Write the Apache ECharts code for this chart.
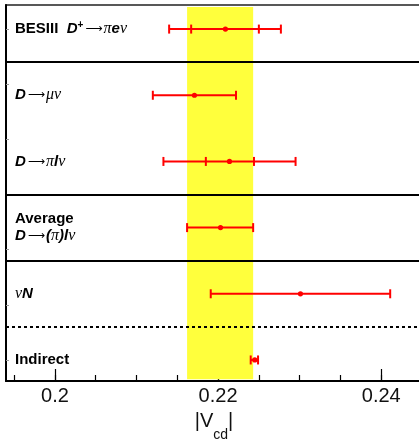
<!DOCTYPE html>
<html>
<head>
<meta charset="utf-8">
<script src="https://cdn.jsdelivr.net/npm/echarts@6/dist/echarts.min.js"></script>
<style>
  html, body { margin: 0; padding: 0; background: #fff; }
  #chart { width: 419px; height: 439px; }
</style>
</head>
<body>
<div id="chart"></div>
<script>
// rows, top to bottom (y position in row units, Indirect = 0)
const rowLabels = [
  '{b|BESIII  }{bi|D}{sup|+}{g|⟶}{gi|π}{bi|e}{gi|ν}',
  '{bi|D}{g|⟶}{gi|μν}',
  '{bi|D}{g|⟶}{gi|π}{bi|l}{gi|ν}',
  '{b|Average}\n{bi|D}{g|⟶}{bi|(}{gi|π}{bi|)l}{gi|ν}',
  '{gi|ν}{bi|N}',
  '{b|Indirect}'
]
const rowPos = [5, 4, 3, 2, 1, 0]

// |Vcd| central values and error bar ends
const centers = [0.2209, 0.2171, 0.2214, 0.2203, 0.2301, 0.2245]
const totalLow = [0.2140, 0.2120, 0.2133, 0.2162, 0.2191, 0.2240]
const totalHigh = [0.2277, 0.2222, 0.2295, 0.2243, 0.2411, 0.2249]
const statLow = [0.2167, null, 0.2185, null, null, null]
const statHigh = [0.2250, null, 0.2244, null, null, null]

// yellow band (average)
const bandRange = [0.2162, 0.2243]

// separators between groups
const solidSeparators = [4.5, 2.5, 1.5]
const dottedSeparators = [0.5]

// axis ticks
const xTickLabels = [0.2, 0.22, 0.24]
const xMinorTicks = [0.195, 0.2, 0.205, 0.21, 0.215, 0.22, 0.225, 0.23, 0.235, 0.24]
const yTicks = [0, 0.833, 1.667, 2.5, 3.333, 4.167, 5]

const xMin = 0.194, xMax = 0.245
const yMin = -0.318, yMax = 5.364

const chart = echarts.init(document.getElementById('chart'))

const textRich = {
  b: { fontFamily: 'Liberation Sans', fontWeight: 'bold', fontSize: 15, color: '#000', lineHeight: 17 },
  bi: { fontFamily: 'Liberation Sans', fontWeight: 'bold', fontStyle: 'italic', fontSize: 15, color: '#000', lineHeight: 17 },
  sup: { fontFamily: 'Liberation Sans', fontWeight: 'bold', fontSize: 10, color: '#000', verticalAlign: 'top', lineHeight: 17 },
  g: { fontFamily: 'DejaVu Sans', fontSize: 12, color: '#333', lineHeight: 17, padding: [0, 1, 0, 2] },
  gi: { fontFamily: 'Liberation Serif', fontStyle: 'italic', fontSize: 16, color: '#000', lineHeight: 17 }
}

const errData = rowPos.map((y, i) => [y, centers[i], totalLow[i], totalHigh[i],
  statLow[i] == null ? NaN : statLow[i], statHigh[i] == null ? NaN : statHigh[i]])

function renderErr(params, api) {
  const y = api.value(0)
  const c = api.coord([api.value(1), y])
  const lo = api.coord([api.value(2), y])
  const hi = api.coord([api.value(3), y])
  const red = '#ff0000'
  const line = (x1, y1, x2, y2) => ({
    type: 'line',
    shape: { x1, y1, x2, y2 },
    style: { stroke: red, lineWidth: 2 }
  })
  const cap = 4.5
  const children = [
    line(lo[0], lo[1], hi[0], hi[1]),
    line(lo[0], lo[1] - cap, lo[0], lo[1] + cap),
    line(hi[0], hi[1] - cap, hi[0], hi[1] + cap)
  ]
  const sl = api.value(4), sh = api.value(5)
  if (!isNaN(sl) && !isNaN(sh)) {
    const a = api.coord([sl, y]), b = api.coord([sh, y])
    children.push(line(a[0], a[1] - cap, a[0], a[1] + cap))
    children.push(line(b[0], b[1] - cap, b[0], b[1] + cap))
  }
  children.push({ type: 'circle', shape: { cx: c[0], cy: c[1], r: 2.6 }, style: { fill: red } })
  return { type: 'group', children }
}

function renderLabel(params, api) {
  const i = api.value(1)
  const p = api.coord([xMin, api.value(0)])
  return {
    type: 'text',
    x: p[0] + 9,
    y: p[1],
    style: {
      text: rowLabels[i],
      rich: textRich,
      verticalAlign: 'middle',
      align: 'left'
    }
  }
}

const option = {
  animation: false,
  grid: {
    left: 6, top: 5, right: -3, bottom: 58,
    outerBoundsMode: 'none',
    show: true, borderColor: '#222', borderWidth: 1.5, backgroundColor: 'transparent'
  },
  xAxis: [{
    type: 'value', min: xMin, max: xMax,
    axisLine: { onZero: false, lineStyle: { color: '#000', width: 2 } },
    axisTick: { inside: true, length: 12, customValues: xTickLabels, lineStyle: { color: '#000', width: 1.2 } },
    axisLabel: {
      customValues: xTickLabels, margin: 5, fontSize: 20, color: '#111',
      fontFamily: 'Liberation Sans', formatter: v => String(v)
    },
    splitLine: { show: false },
    name: '{n||V}{s|cd}{n||}',
    nameLocation: 'middle',
    nameGap: 30,
    nameTextStyle: {
      rich: {
        n: { fontFamily: 'Liberation Sans', fontSize: 20, color: '#111', lineHeight: 22, verticalAlign: 'top' },
        s: { fontFamily: 'Liberation Sans', fontSize: 14, color: '#111', lineHeight: 31, verticalAlign: 'bottom' }
      }
    }
  }, {
    type: 'value', min: xMin, max: xMax, position: 'bottom',
    axisLine: { show: false, onZero: false },
    axisTick: { inside: true, length: 6, customValues: xMinorTicks, lineStyle: { color: '#000', width: 1.2 } },
    axisLabel: { show: false },
    splitLine: { show: false }
  }],
  yAxis: {
    type: 'value', min: yMin, max: yMax,
    axisLine: { show: true, onZero: false, lineStyle: { color: '#000', width: 2 } },
    axisTick: { show: true, inside: true, length: 3, customValues: yTicks, lineStyle: { color: '#999', width: 1 } },
    axisLabel: { show: false },
    splitLine: { show: false }
  },
  series: [
    {
      type: 'line', data: [], z: 1,
      markArea: {
        silent: true,
        itemStyle: { color: '#ffff3c' },
        data: [[{ xAxis: bandRange[0], yAxis: -0.29 }, { xAxis: bandRange[1], yAxis: 5.335 }]]
      }
    },
    {
      type: 'line', data: [], z: 2,
      markLine: {
        silent: true, symbol: 'none', label: { show: false },
        data: solidSeparators.map(v => ({ yAxis: v, lineStyle: { color: '#000', width: 2, type: 'solid' } }))
          .concat(dottedSeparators.map(v => ({ yAxis: v, lineStyle: { color: '#000', width: 2, type: [3, 3] } })))
      }
    },
    {
      type: 'custom', z: 3,
      renderItem: renderErr,
      encode: { x: 1, y: 0 },
      data: errData
    },
    {
      type: 'custom', z: 4,
      renderItem: renderLabel,
      encode: { x: 2, y: 0 },
      data: rowPos.map((y, i) => [y, i, xMin])
    }
  ]
}
chart.setOption(option)
</script>
</body>
</html>
